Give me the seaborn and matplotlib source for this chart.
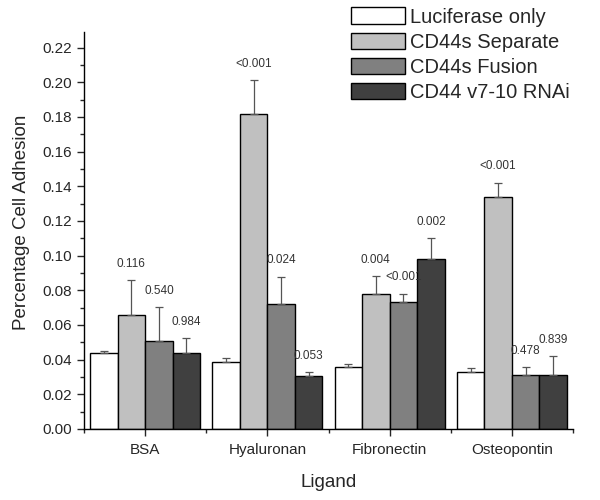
import numpy as np
import pandas as pd
import matplotlib
matplotlib.use("Agg")
import matplotlib.pyplot as plt
from matplotlib.ticker import MultipleLocator
import seaborn as sns

ligands = ["BSA", "Hyaluronan", "Fibronectin", "Osteopontin"]
groups = ["Luciferase only", "CD44s Separate", "CD44s Fusion", "CD44 v7-10 RNAi"]
colors = ["#ffffff", "#c0c0c0", "#808080", "#404040"]

# mean adhesion per group, in ligand order
luciferase = [0.0438, 0.0388, 0.0360, 0.0329]
cd44s_sep = [0.0658, 0.1815, 0.0776, 0.1337]
cd44s_fus = [0.0508, 0.0719, 0.0732, 0.0310]
rnai = [0.0438, 0.0305, 0.0983, 0.0310]

# upper error (SD)
luciferase_err = [0.0010, 0.0020, 0.0014, 0.0022]
cd44s_sep_err = [0.0200, 0.0197, 0.0104, 0.0083]
cd44s_fus_err = [0.0194, 0.0160, 0.0048, 0.0047]
rnai_err = [0.0085, 0.0023, 0.0117, 0.0110]

# p-values shown above bars (none for luciferase control)
p_sep = ["0.116", "<0.001", "0.004", "<0.001"]
p_fus = ["0.540", "0.024", "<0.001", "0.478"]
p_rnai = ["0.984", "0.053", "0.002", "0.839"]

means = [luciferase, cd44s_sep, cd44s_fus, rnai]
errs = [luciferase_err, cd44s_sep_err, cd44s_fus_err, rnai_err]
pvals = [None, p_sep, p_fus, p_rnai]

df = pd.DataFrame({
    "Ligand": np.repeat([ligands], len(groups), axis=0).ravel(),
    "Group": np.repeat(groups, len(ligands)),
    "Adhesion": np.concatenate(means),
})

sns.set_style("ticks")
plt.rcParams["font.family"] = ["Liberation Sans", "DejaVu Sans"]

fig = plt.figure(figsize=(6, 5), dpi=100)
ax = fig.add_axes([0.14, 0.142, 0.815, 0.794])

sns.barplot(data=df, x="Ligand", y="Adhesion", hue="Group", order=ligands,
            hue_order=groups, palette=colors, errorbar=None, width=0.9,
            edgecolor="black", linewidth=1, ax=ax)

bar_containers = list(ax.containers)
for i, cont in enumerate(bar_containers):
    xs = [p.get_x() + p.get_width() / 2 for p in cont.patches]
    ax.errorbar(xs, means[i], yerr=[np.zeros(len(xs)), errs[i]], fmt="none",
                ecolor="#555555", elinewidth=0.9, capsize=3, capthick=0.9,
                zorder=1)
    if pvals[i] is not None:
        for x, m, e, t in zip(xs, means[i], errs[i], pvals[i]):
            ax.text(x, m + e + 0.006, t, ha="center", va="bottom",
                    fontsize=8.5, color="#333333")

ax.set_ylim(0, 0.229)
ax.set_xlim(-0.5, 3.5)
ax.yaxis.set_major_locator(MultipleLocator(0.02))
ax.yaxis.set_minor_locator(MultipleLocator(0.01))
ax.yaxis.set_major_formatter(plt.FuncFormatter(lambda v, _: f"{v:.2f}"))
ax.set_xticks(range(len(ligands)))
ax.set_xticks(np.arange(-0.5, 4, 1), minor=True)
ax.tick_params(axis="both", which="major", labelsize=11, length=5, width=1)
ax.tick_params(axis="both", which="minor", length=3, width=1)
ax.tick_params(axis="x", pad=5)
for s in ["top", "right"]:
    ax.spines[s].set_visible(False)
for s in ["left", "bottom"]:
    ax.spines[s].set_linewidth(1)
    ax.spines[s].set_color("black")

ax.set_xlabel("Ligand", fontsize=13.5, labelpad=12)
ax.set_ylabel("Percentage Cell Adhesion", fontsize=13.5)
ax.yaxis.set_label_coords(-0.11, 0.52)

handles, labels = ax.get_legend_handles_labels()
ax.get_legend().remove()
fig.legend(handles, labels, loc="upper left", bbox_to_anchor=(0.585, 0.985),
           frameon=False, fontsize=14.5, handlelength=2.7, handleheight=0.85,
           handletextpad=0.25, labelspacing=0.3, borderaxespad=0,
           borderpad=0)

fig.savefig("out.png", dpi=100)
